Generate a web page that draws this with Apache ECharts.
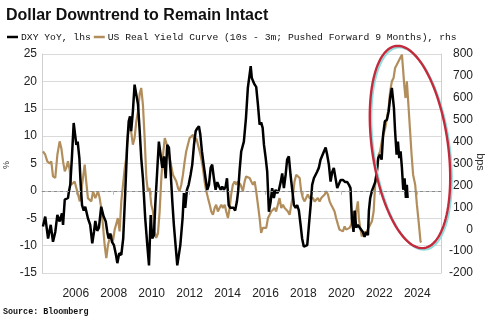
<!DOCTYPE html>
<html>
<head>
<meta charset="utf-8">
<script src="https://cdn.jsdelivr.net/npm/echarts@6/dist/echarts.min.js"></script>
<style>
html,body{margin:0;padding:0;background:#fff;}
#chart{width:485px;height:327px;}
</style>
</head>
<body>
<div id="chart"></div>
<script>
const titleText = 'Dollar Downtrend to Remain Intact';
const dxyName = 'DXY YoY, lhs';
const curveName = 'US Real Yield Curve (10s - 3m; Pushed Forward 9 Months), rhs';
const sourceText = 'Source: Bloomberg';
const leftUnit = '%';
const rightUnit = 'bps';
const yearTicks = [2006, 2008, 2010, 2012, 2014, 2016, 2018, 2020, 2022, 2024];

const dxyDates = [2004.27,2004.39,2004.54,2004.68,2004.80,2004.92,2005.03,2005.15,2005.27,2005.33,2005.42,2005.50,2005.59,2005.64,2005.71,2005.80,2005.89,2005.94,2006.03,2006.10,2006.19,2006.26,2006.33,2006.42,2006.50,2006.64,2006.76,2006.87,2006.96,2007.03,2007.13,2007.22,2007.34,2007.47,2007.58,2007.66,2007.73,2007.82,2007.91,2008.01,2008.12,2008.19,2008.29,2008.40,2008.50,2008.61,2008.71,2008.79,2008.86,2008.92,2009.01,2009.10,2009.19,2009.28,2009.37,2009.45,2009.54,2009.66,2009.77,2009.86,2009.95,2010.03,2010.12,2010.19,2010.29,2010.38,2010.47,2010.56,2010.65,2010.74,2010.82,2010.91,2011.00,2011.09,2011.17,2011.26,2011.35,2011.44,2011.51,2011.58,2011.63,2011.70,2011.77,2011.86,2011.95,2012.05,2012.14,2012.23,2012.32,2012.40,2012.49,2012.56,2012.65,2012.74,2012.84,2012.93,2013.02,2013.11,2013.19,2013.28,2013.37,2013.46,2013.55,2013.64,2013.72,2013.81,2013.90,2013.97,2014.06,2014.14,2014.23,2014.32,2014.40,2014.49,2014.56,2014.63,2014.72,2014.86,2014.97,2015.07,2015.16,2015.22,2015.28,2015.35,2015.43,2015.51,2015.60,2015.69,2015.77,2015.85,2015.92,2016.01,2016.09,2016.18,2016.27,2016.35,2016.44,2016.53,2016.62,2016.71,2016.80,2016.88,2016.97,2017.06,2017.14,2017.23,2017.32,2017.41,2017.50,2017.59,2017.67,2017.76,2017.85,2017.93,2018.02,2018.11,2018.20,2018.29,2018.38,2018.46,2018.55,2018.64,2018.72,2018.81,2018.90,2018.99,2019.08,2019.17,2019.25,2019.34,2019.43,2019.52,2019.60,2019.69,2019.78,2019.87,2019.96,2020.08,2020.20,2020.31,2020.40,2020.48,2020.55,2020.64,2020.70,2020.78,2020.87,2020.96,2021.04,2021.13,2021.22,2021.31,2021.40,2021.45,2021.52,2021.61,2021.70,2021.78,2021.87,2021.94,2022.03,2022.12,2022.20,2022.29,2022.40,2022.49,2022.57,2022.66,2022.71,2022.77,2022.83,2022.91,2022.98,2023.05,2023.12,2023.19,2023.26,2023.33,2023.40,2023.45,2023.49];
const dxyValues = [-6.5,-4.7,-8.7,-6.2,-9.3,-7.5,-4.4,-5.6,-4.1,-6.2,-1.6,-1.8,-1.3,-0.1,1.1,6.3,12.4,12.7,8.4,9.0,6.0,1.1,-2.6,-3.6,-2.9,-5.0,-6.2,-9.6,-7.5,-5.5,-7.3,-6.7,-2.9,-4.7,-5.6,-7.5,-8.7,-7.8,-9.3,-9.9,-11.7,-13.2,-11.4,-11.7,-8.7,-0.1,8.4,12.7,13.6,10.9,14.5,19.4,19.2,15.8,10.9,6.0,2.3,-5.0,-9.9,-13.6,-4.4,-8.7,-8.1,-2.6,3.5,9.0,6.6,4.2,6.3,2.3,8.4,7.9,3.5,-2.0,-6.2,-9.9,-13.6,-13.8,-9.9,-10.2,-5.0,-0.4,-3.1,0.2,1.1,2.9,4.8,8.4,10.9,11.4,11.8,10.4,7.2,4.8,2.3,0.2,1.1,4.2,4.8,2.3,0.2,1.6,0.8,0.2,0.8,0.2,0.8,2.3,-2.6,-3.1,-2.9,-3.1,-3.6,-2.0,0.0,3.5,7.2,9.0,13.3,18.8,21.2,22.8,20.6,20.0,19.4,19.0,15.8,12.1,12.5,11.5,8.4,6.0,3.5,-3.8,-2.0,0.5,-1.3,0.2,-0.4,0.2,1.6,3.2,0.5,2.9,5.7,6.3,2.9,0.2,-2.6,-3.1,-2.6,-3.6,-6.2,-8.7,-10.2,-10.4,-9.9,-6.2,-2.6,1.1,2.3,2.6,3.5,4.2,5.7,6.0,7.2,7.9,6.6,4.8,1.7,3.5,4.2,4.0,0.5,0.3,2.0,2.0,1.6,1.6,1.1,0.5,-5.0,-7.5,-3.6,-6.7,-6.2,-6.7,-7.0,-7.5,-8.4,-7.5,-8.1,-3.6,-1.3,0.0,0.3,1.6,3.5,6.0,6.6,5.7,10.3,12.7,13.0,14.5,17.0,18.8,18.5,15.1,10.9,6.6,9.0,6.0,7.2,4.2,0.2,2.3,-1.3,1.1,-1.3];

const curveDates = [2004.27,2004.39,2004.50,2004.63,2004.71,2004.80,2004.92,2005.03,2005.15,2005.24,2005.33,2005.42,2005.50,2005.59,2005.68,2005.76,2005.85,2005.94,2006.03,2006.12,2006.21,2006.29,2006.38,2006.47,2006.55,2006.64,2006.73,2006.82,2006.91,2007.03,2007.17,2007.26,2007.34,2007.43,2007.52,2007.61,2007.70,2007.79,2007.87,2007.96,2008.05,2008.13,2008.22,2008.31,2008.40,2008.49,2008.58,2008.66,2008.75,2008.84,2008.92,2009.01,2009.10,2009.19,2009.28,2009.37,2009.45,2009.49,2009.54,2009.63,2009.72,2009.80,2009.89,2009.98,2010.07,2010.16,2010.24,2010.33,2010.42,2010.51,2010.60,2010.69,2010.77,2010.86,2010.95,2011.03,2011.12,2011.21,2011.30,2011.39,2011.47,2011.56,2011.65,2011.74,2011.82,2011.91,2012.00,2012.09,2012.18,2012.26,2012.35,2012.44,2012.53,2012.61,2012.70,2012.79,2012.88,2012.97,2013.06,2013.14,2013.23,2013.32,2013.40,2013.49,2013.58,2013.67,2013.76,2013.85,2013.93,2014.02,2014.11,2014.19,2014.28,2014.37,2014.46,2014.54,2014.69,2014.81,2014.90,2014.98,2015.07,2015.16,2015.25,2015.34,2015.43,2015.51,2015.60,2015.69,2015.77,2015.86,2015.95,2016.04,2016.13,2016.22,2016.30,2016.39,2016.48,2016.56,2016.65,2016.74,2016.83,2016.92,2017.01,2017.09,2017.18,2017.27,2017.36,2017.45,2017.53,2017.62,2017.71,2017.80,2017.88,2017.97,2018.06,2018.14,2018.23,2018.32,2018.41,2018.50,2018.59,2018.67,2018.76,2018.85,2018.94,2019.03,2019.12,2019.20,2019.29,2019.38,2019.46,2019.55,2019.64,2019.72,2019.82,2019.90,2019.99,2020.08,2020.17,2020.25,2020.34,2020.43,2020.52,2020.60,2020.69,2020.78,2020.87,2020.92,2020.99,2021.08,2021.17,2021.25,2021.34,2021.43,2021.52,2021.61,2021.70,2021.78,2021.87,2021.96,2022.04,2022.13,2022.22,2022.31,2022.40,2022.49,2022.57,2022.66,2022.75,2022.83,2022.92,2023.01,2023.10,2023.19,2023.26,2023.31,2023.38,2023.45,2023.52,2023.61,2023.70,2023.78,2023.89,2023.98,2024.07,2024.17,2024.22];
const curveValues = [355,340,310,300,310,241,234,340,401,370,310,264,280,310,270,203,208,218,188,158,127,173,234,295,218,142,150,127,173,142,173,142,97,21,-71,-132,-71,-40,-25,-56,-2,-10,51,-10,127,203,279,325,431,477,446,386,416,492,538,620,645,645,568,416,234,173,188,112,81,-10,-40,-20,80,234,340,416,410,370,325,325,249,234,218,188,173,203,249,310,355,386,416,424,431,401,416,386,355,325,279,218,173,142,112,81,66,97,112,81,97,112,97,112,81,51,97,158,203,218,203,218,203,173,218,241,249,234,218,203,218,173,112,51,-17,6,13,6,51,66,81,74,97,81,112,142,97,112,97,104,81,66,112,158,218,249,257,234,173,142,127,142,158,142,150,142,127,135,142,127,142,150,158,173,158,127,112,97,81,51,21,-2,0,-10,13,-2,-10,6,21,81,13,81,127,51,6,-33,-10,-25,-10,6,13,36,81,203,264,340,355,401,431,462,508,553,629,675,690,736,751,759,782,797,720,660,599,675,584,462,340,249,203,112,36,-56,-60];

const leftTicks = {min: -15, max: 25, step: 5};
const rightTicks = {min: -200, max: 800, step: 100};

const dxyData = dxyDates.map((d, i) => [d, dxyValues[i]]);
const curveData = curveDates.map((d, i) => [d, curveValues[i]]);

// hand-drawn style ellipse annotation (pixel space)
function ellipsePoints(cx, cy, a, b, phiDeg, dx, dy) {
  const phi = phiDeg * Math.PI / 180;
  const ux = -Math.sin(phi), uy = -Math.cos(phi);
  const vx = Math.cos(phi), vy = -Math.sin(phi);
  const pts = [];
  for (let k = 0; k < 120; k++) {
    const t = k / 120 * Math.PI * 2;
    pts.push([cx + dx + a * Math.cos(t) * ux + b * Math.sin(t) * vx,
              cy + dy + a * Math.cos(t) * uy + b * Math.sin(t) * vy]);
  }
  return pts;
}

const gridColors = [];
for (let v = leftTicks.min; v <= leftTicks.max; v += leftTicks.step) {
  gridColors.push(v === 0 ? 'rgba(0,0,0,0)' : '#dadada');
}

const chart = echarts.init(document.getElementById('chart'), null, {renderer: 'canvas'});
chart.setOption({
  animation: false,
  backgroundColor: '#fff',
  title: {
    text: titleText,
    left: 1, top: 3,
    textStyle: {fontFamily: 'Liberation Sans', fontWeight: 'bold', fontSize: 16, color: '#111'}
  },
  legend: {
    left: 2, top: 27,
    itemGap: 3,
    itemWidth: 11, itemHeight: 2.5,
    icon: 'rect',
    data: [dxyName, curveName],
    textStyle: {fontFamily: 'Liberation Mono', fontSize: 9.7, color: '#111', padding: [0, 0, 0, -2]}
  },
  grid: {left: 42, right: 44, top: 54, height: 219, containLabel: false, outerBoundsMode: 'none'},
  xAxis: {
    type: 'value',
    min: 2004.22, max: 2025.25,
    offset: 9,
    axisLine: {show: true, lineStyle: {color: '#bdbdbd', width: 1}},
    axisTick: {show: true, length: 4, customValues: yearTicks, lineStyle: {color: '#bdbdbd'}},
    axisLabel: {customValues: yearTicks, formatter: v => String(v), margin: 6,
      fontFamily: 'Liberation Sans', fontSize: 12, color: '#222'},
    splitLine: {show: false}
  },
  yAxis: [
    {
      type: 'value', position: 'left',
      min: leftTicks.min, max: leftTicks.max, interval: leftTicks.step,
      axisLine: {show: true, lineStyle: {color: '#cfcfcf'}},
      axisTick: {show: false},
      axisLabel: {margin: 5, fontFamily: 'Liberation Sans', fontSize: 12, color: '#222'},
      splitLine: {show: true, lineStyle: {color: gridColors, width: 1}}
    },
    {
      type: 'value', position: 'right',
      min: rightTicks.min, max: rightTicks.max, interval: rightTicks.step,
      axisLine: {show: true, lineStyle: {color: '#cfcfcf'}},
      axisTick: {show: false},
      axisLabel: {margin: 32, align: 'right', fontFamily: 'Liberation Sans', fontSize: 12, color: '#222'},
      splitLine: {show: false}
    }
  ],
  series: [
    {
      name: curveName, type: 'line', yAxisIndex: 1,
      data: curveData, symbol: 'none', smooth: false,
      lineStyle: {color: '#b38e5d', width: 2.2},
      itemStyle: {color: '#b38e5d'},
      z: 2
    },
    {
      name: dxyName, type: 'line', yAxisIndex: 0,
      data: dxyData, symbol: 'none', smooth: false,
      lineStyle: {color: '#000', width: 2.5},
      itemStyle: {color: '#000'},
      z: 3,
      markLine: {
        silent: true, symbol: 'none', label: {show: false},
        lineStyle: {color: '#8c8c8c', type: [3, 3], width: 1},
        data: [{yAxis: 0}]
      }
    }
  ],
  graphic: [
    {type: 'polygon', shape: {points: ellipsePoints(410, 147, 102, 38, 8, 1.6, 1.6)},
     style: {fill: 'none', stroke: '#8fdcdc', lineWidth: 2}, z: 10},
    {type: 'polygon', shape: {points: ellipsePoints(410, 147, 102, 38, 8, 0, 0)},
     style: {fill: 'none', stroke: '#c42a3c', lineWidth: 2.4}, z: 11},
    {type: 'text', x: 7, y: 165, rotation: Math.PI / 2,
     style: {text: leftUnit, fontFamily: 'Liberation Sans', fontSize: 9, fill: '#333', align: 'center', verticalAlign: 'middle'}},
    {type: 'text', x: 480, y: 162, rotation: -Math.PI / 2,
     style: {text: rightUnit, fontFamily: 'Liberation Sans', fontSize: 11, fill: '#333', align: 'center', verticalAlign: 'middle'}},
    {type: 'text', left: 3, top: 308,
     style: {text: sourceText, fontFamily: 'Liberation Mono', fontWeight: 'bold', fontSize: 8.4, fill: '#111'}}
  ]
});
</script>
</body>
</html>
